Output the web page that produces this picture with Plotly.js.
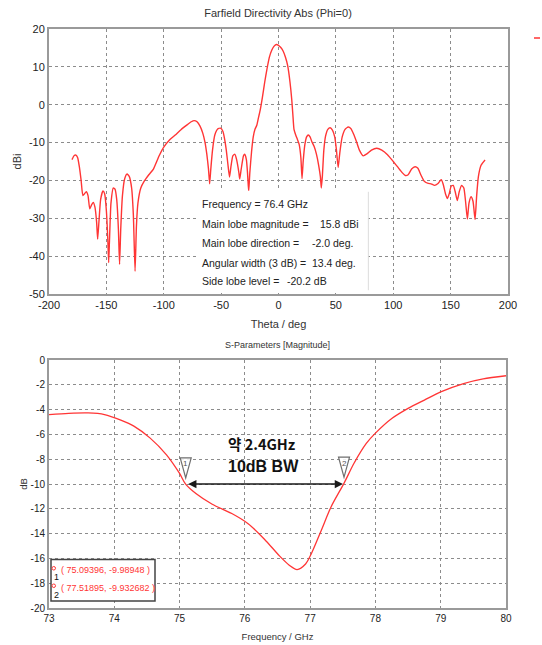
<!DOCTYPE html>
<html>
<head>
<meta charset="utf-8">
<script src="https://cdn.plot.ly/plotly-3.0.1.min.js"></script>
<style>
html,body{margin:0;padding:0;background:#fff;}
#chart{width:542px;height:645px;}
</style>
</head>
<body>
<div id="chart"></div>
<script>
// ---------- Farfield directivity (Phi=0) ----------
const thetaDeg = [-180,-178,-176.5,-175,-173.5,-172,-170.5,-169,-167.5,-166,-164.5,-163,-161.5,-160,-158.5,-157.6,-156.5,-155,-153,-151.5,-150,-148.7,-148,-147.3,-146,-144,-142.5,-141,-139.5,-138.5,-137.5,-136,-134,-132,-130,-128,-126.5,-125,-123.8,-122.5,-120,-117,-113,-109,-104,-100,-95,-90,-85,-80,-76,-73.5,-71,-68.5,-66,-64,-62.5,-61,-60,-59,-57.5,-55.5,-53,-50.5,-48.5,-47,-45.5,-44,-42.7,-41.5,-39.8,-38,-36.5,-34.5,-33.8,-32.5,-30.5,-29.5,-28,-27,-26,-25,-23.5,-22,-20.5,-19,-17.5,-16,-14,-12,-10,-8,-6,-4,-2,0,2,4,6,8,10,11.5,12.5,13.5,15,16.5,18,19.5,20.5,21.5,23,24.5,26,27.5,29,31,33,35,36.5,37.3,38.2,39.5,41,43,45,47,49,50.5,52,53.5,55.5,58,60.8,63,65.5,68,70.5,73.8,77,81,85.6,90,95,100,104,108,110.5,113,116,119,121.5,124,127,130.5,133,136,139,141.8,143.5,145.5,147.2,148.8,150.5,152.3,154,155.8,157.5,159.5,161.5,163,164.6,166,167.8,169.5,171.3,172.7,174.2,176.5,180];
const directivityDBi = [-14.5,-13.4,-13.3,-14,-16.5,-20,-24,-23.5,-23,-24,-27.5,-26.5,-25.8,-27,-31,-35.5,-31,-25,-22.8,-23.5,-28,-36,-41.7,-36,-26,-22,-22.3,-25,-33,-42.2,-33,-24,-19.5,-18.3,-19,-22,-29,-44,-32,-26,-22,-20.2,-18.5,-17,-13.5,-11.2,-9.3,-8,-6.6,-5.4,-4.5,-4.2,-4.5,-5.6,-7.5,-10,-13,-17,-20.9,-17,-12,-8,-6.4,-6.2,-7,-9,-12,-16,-19.1,-16.5,-13.5,-13.1,-14.5,-18,-19.6,-17,-13.5,-13.1,-14.5,-18,-23,-18,-12.5,-8.5,-6.5,-5.5,-3.5,-1.5,2,6,9.5,12.5,14.3,15.4,15.9,15.7,15.1,14.2,12.6,10.3,6,1.5,-2.5,-6.5,-8,-9.2,-10.5,-14,-19.5,-15,-10.5,-8.5,-8,-8.5,-9.7,-11,-13,-16,-19,-22,-19,-12,-8.3,-6.5,-6.1,-6.7,-8.5,-12,-16.6,-12.5,-8.5,-6.5,-5.9,-6.3,-7.8,-9.8,-12,-13.5,-13,-12,-11.5,-12,-13.2,-15,-16.5,-18,-18.7,-18.5,-17,-16.4,-16.8,-18.5,-20.2,-20.8,-20.9,-21.3,-20.8,-19.8,-21,-23.5,-24.8,-23.5,-21.5,-21.3,-23,-25.3,-23,-21.3,-22,-25.5,-30.2,-26,-24.3,-25.5,-30.3,-24,-19,-16,-14.6];

const infoLabels = ["Frequency = 76.4 GHz","Main lobe magnitude =","Main lobe direction =","Angular width (3 dB) =","Side lobe level ="];
const infoValues = ["","15.8 dBi","-2.0 deg.","13.4 deg.","-20.2 dB"];

// ---------- S-parameters ----------
const freqGHz = [73,73.3,73.6,73.85,74.1,74.3,74.55,74.8,75.0,75.09,75.25,75.5,75.8,76.05,76.3,76.53,76.68,76.8,76.93,77.02,77.17,77.32,77.52,77.67,77.86,78.0,78.25,78.5,78.75,79.0,79.35,79.65,80];
const s11dB = [-4.4,-4.3,-4.27,-4.4,-4.85,-5.33,-6.3,-7.65,-9.15,-9.99,-10.77,-11.63,-12.38,-13.2,-14.45,-15.8,-16.55,-16.9,-16.45,-15.6,-13.75,-11.85,-9.93,-8.35,-6.73,-5.9,-4.72,-3.9,-3.23,-2.57,-1.9,-1.52,-1.27];

const markerFreq = [75.09396, 77.51895];
const markerDB = [-9.98948, -9.932682];
const markerNames = ["1","2"];
const bwLines = ["약 2.4GHz", "10dB BW"];

const W = 542, H = 645;
const PX = p => p / W;
const PY = p => 1 - p / H;
const FONT = "Liberation Sans, Arial, sans-serif";
const RED = "#ff3535";

const traces = [
  {x: thetaDeg, y: directivityDBi, type: "scatter", mode: "lines", xaxis: "x", yaxis: "y",
   line: {color: RED, width: 1.4, shape: "spline", smoothing: 0.5}, hoverinfo: "skip", showlegend: false},
  {x: freqGHz, y: s11dB, type: "scatter", mode: "lines", xaxis: "x2", yaxis: "y2",
   line: {color: RED, width: 1.3, shape: "spline", smoothing: 0.8}, hoverinfo: "skip", showlegend: false}
];

const axisCommon = {
  showline: true, mirror: true, linecolor: "#9a9a9a", linewidth: 2,
  showgrid: true, gridcolor: "#8c8c8c", griddash: "dot", gridwidth: 1,
  zeroline: false, ticks: "", fixedrange: true
};

const annotations = [];
// info box texts
const infoY = [-26.3, -31.4, -36.4, -41.7, -46.6];
const valueX = [0, 35.3, 28.1, 28.1, 6.5];
infoLabels.forEach((t, i) => {
  annotations.push({xref: "x", yref: "y", x: -68.5, y: infoY[i], text: t, showarrow: false,
    xanchor: "left", yanchor: "middle", font: {family: FONT, size: 10.5, color: "#222"}});
  if (infoValues[i]) annotations.push({xref: "x", yref: "y", x: valueX[i] - 1, y: infoY[i], text: infoValues[i], showarrow: false,
    xanchor: "left", yanchor: "middle", font: {family: FONT, size: 10.5, color: "#222"}});
});
// bottom chart title
annotations.push({xref: "paper", yref: "paper", x: PX(277.5), y: PY(345), text: "S-Parameters [Magnitude]",
  showarrow: false, xanchor: "center", yanchor: "middle", font: {family: FONT, size: 9, color: "#333"}});
// BW arrow
annotations.push({xref: "x2", yref: "y2", axref: "x2", ayref: "y2",
  x: markerFreq[1], y: -10, ax: markerFreq[0], ay: -10, text: "", showarrow: true,
  arrowhead: 2, startarrowhead: 2, arrowside: "end+start", arrowsize: 1.1, startarrowsize: 1.1,
  arrowwidth: 1.5, arrowcolor: "#1a1a1a", standoff: 1, startstandoff: 1});
annotations.push({xref: "x2", yref: "y2", x: 76.27, y: -6.75, text: bwLines[0], showarrow: false,
  xanchor: "center", yanchor: "middle", borderpad: 0,
  font: {family: "Noto Sans CJK KR", size: 14.5, color: "#111", weight: "bold"}});
annotations.push({xref: "x2", yref: "y2", x: 76.29, y: -8.55, text: bwLines[1], showarrow: false,
  xanchor: "center", yanchor: "middle", borderpad: 0,
  font: {family: FONT, size: 16, color: "#111", weight: "bold"}});
// marker numbers inside triangles
markerFreq.forEach((f, i) => {
  annotations.push({xref: "x2", yref: "y2", x: f, y: markerDB[i], yshift: 20, text: markerNames[i], showarrow: false,
    xanchor: "center", yanchor: "middle", font: {family: FONT, size: 8, color: "#555"}});
});
// marker readout box texts
const readY = [570, 587.5];
const subY = [576.5, 594.5];
markerFreq.forEach((f, i) => {
  annotations.push({xref: "paper", yref: "paper", x: PX(59), y: PY(readY[i]),
    text: "( " + f + ", " + markerDB[i] + " )", showarrow: false, xanchor: "left", yanchor: "middle",
    font: {family: FONT, size: 9, color: RED}});
  annotations.push({xref: "paper", yref: "paper", x: PX(56.5), y: PY(subY[i]), text: markerNames[i], showarrow: false,
    xanchor: "center", yanchor: "middle", font: {family: FONT, size: 9, color: "#111"}});
});

const shapes = [
  // info box background
  {type: "rect", xref: "x", yref: "y", x0: -71, x1: 78, y0: -49.6, y1: -22.7, fillcolor: "#fff", line: {width: 0}, layer: "above"},
  {type: "line", xref: "x", yref: "y", x0: 78.3, x1: 78.3, y0: -23, y1: -49, line: {color: "#dcdcdc", width: 1}, layer: "above"},
  // legend fragment top right
  {type: "line", xref: "paper", yref: "paper", x0: PX(534), x1: PX(540), y0: PY(38), y1: PY(38), line: {color: RED, width: 1.5}},
  // marker readout box
  {type: "rect", xref: "paper", yref: "paper", x0: PX(51), x1: PX(155), y0: PY(601), y1: PY(559.5),
   fillcolor: "#fff", line: {color: "#444", width: 1.5}, layer: "above"},
  // small red marker symbols in readout box
  {type: "circle", xref: "paper", yref: "paper", x0: PX(52), x1: PX(55.5), y0: PY(570), y1: PY(566.5),
   line: {color: RED, width: 1}, layer: "above"},
  {type: "circle", xref: "paper", yref: "paper", x0: PX(52), x1: PX(55.5), y0: PY(587.5), y1: PY(584),
   line: {color: RED, width: 1}, layer: "above"}
];
markerFreq.forEach((f, i) => {
  shapes.push({type: "path", xref: "x2", yref: "y2", xsizemode: "pixel", ysizemode: "pixel",
    xanchor: f, yanchor: markerDB[i], path: "M -5.5 26 L 5.5 26 L 0 6 Z",
    fillcolor: "rgba(255,255,255,0.85)", line: {color: "#6f6f6f", width: 1.2}, layer: "above"});
});

const layout = {
  width: W, height: H,
  margin: {l: 0, r: 0, t: 0, b: 0, pad: 0},
  paper_bgcolor: "#fff", plot_bgcolor: "#fff",
  showlegend: false,
  font: {family: FONT, color: "#222"},
  title: {text: "Farfield Directivity Abs (Phi=0)", font: {family: FONT, size: 11, color: "#333"},
    x: PX(278), xanchor: "center", y: PY(13), yanchor: "middle", xref: "paper", yref: "paper"},
  xaxis: Object.assign({}, axisCommon, {domain: [PX(49), PX(508)], anchor: "y", range: [-200, 200],
    tickvals: [-200,-150,-100,-50,0,50,100,150,200], ticktext: ["-200","-150","-100","-50","0","50","100","150","200"],
    tickfont: {family: FONT, size: 11, color: "#222"},
    title: {text: "Theta / deg", font: {family: FONT, size: 11, color: "#333"}, standoff: 10}}),
  yaxis: Object.assign({}, axisCommon, {domain: [PY(294), PY(29)], anchor: "x", range: [-50, 20],
    tickvals: [-50,-40,-30,-20,-10,0,10,20], ticktext: ["-50","-40","-30","-20","-10","0","10","20"],
    tickfont: {family: FONT, size: 11, color: "#222"},
    title: {text: "dBi", font: {family: FONT, size: 11, color: "#333"}, standoff: 5}}),
  xaxis2: Object.assign({}, axisCommon, {domain: [PX(49), PX(506)], anchor: "y2", range: [73, 80],
    tickvals: [73,74,75,76,77,78,79,80], ticktext: ["73","74","75","76","77","78","79","80"],
    tickfont: {family: FONT, size: 10, color: "#222"},
    title: {text: "Frequency / GHz", font: {family: FONT, size: 9.5, color: "#333"}, standoff: 10}}),
  yaxis2: Object.assign({}, axisCommon, {domain: [PY(608), PY(360)], anchor: "x2", range: [-20, 0],
    tickvals: [-20,-18,-16,-14,-12,-10,-8,-6,-4,-2,0], ticktext: ["-20","-18","-16","-14","-12","-10","-8","-6","-4","-2","0"],
    tickfont: {family: FONT, size: 10, color: "#222"},
    title: {text: "dB", font: {family: FONT, size: 9.5, color: "#333"}, standoff: 1}}),
  annotations: annotations,
  shapes: shapes
};

Plotly.newPlot("chart", traces, layout, {staticPlot: true, displayModeBar: false, responsive: false});
</script>
</body>
</html>
